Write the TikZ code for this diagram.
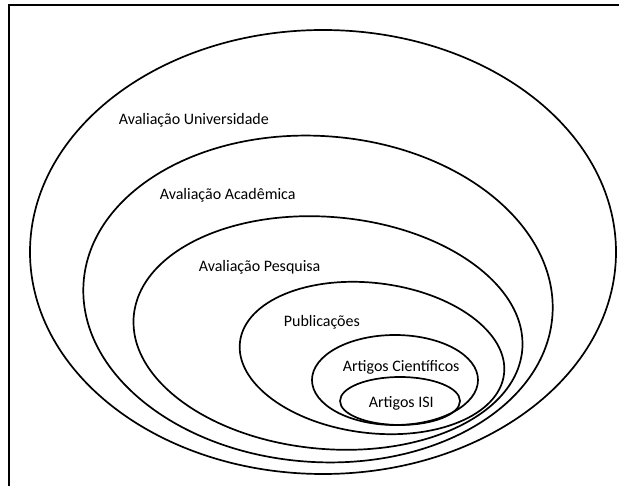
\documentclass[tikz,border=0pt]{standalone}
\usepackage{fontspec}
\setmainfont{Carlito}

\begin{document}
\begin{tikzpicture}[x=1pt,y=-1pt,line width=1.7pt,
    every node/.style={inner sep=0pt,anchor=west,font=\fontsize{16}{19}\selectfont}]
      \useasboundingbox (0,0) rectangle (619,486);
      \draw[line width=2.6pt] (9,486) -- (9,5) -- (619,5);

      \draw (323,252) ellipse [x radius=293, y radius=222];
      \draw[rotate around={-4:(318,299)}] (318,299) ellipse [x radius=235, y radius=163];
      \draw[rotate around={-5:(328,333)}] (328,333) ellipse [x radius=195, y radius=116];
      \draw[rotate around={-7:(372,358)}] (372,358) ellipse [x radius=133, y radius=75];
      \draw (395,380) ellipse [x radius=83, y radius=45];
      \draw (400,401) ellipse [x radius=60, y radius=24];

      \node (UNIV) at (118,120) {Avaliação Universidade};
      \node (ACAD) at (159,195) {Avaliação Acadêmica};
      \node (PESQ) at (198,267) {Avaliação Pesquisa};
      \node (PUBL) at (283,322) {Publicações};
      \node (CIENT) at (342,367) {Artigos Científicos};
      \node (ISI) at (368,403) {Artigos ISI};
    \end{tikzpicture}
\end{document}
